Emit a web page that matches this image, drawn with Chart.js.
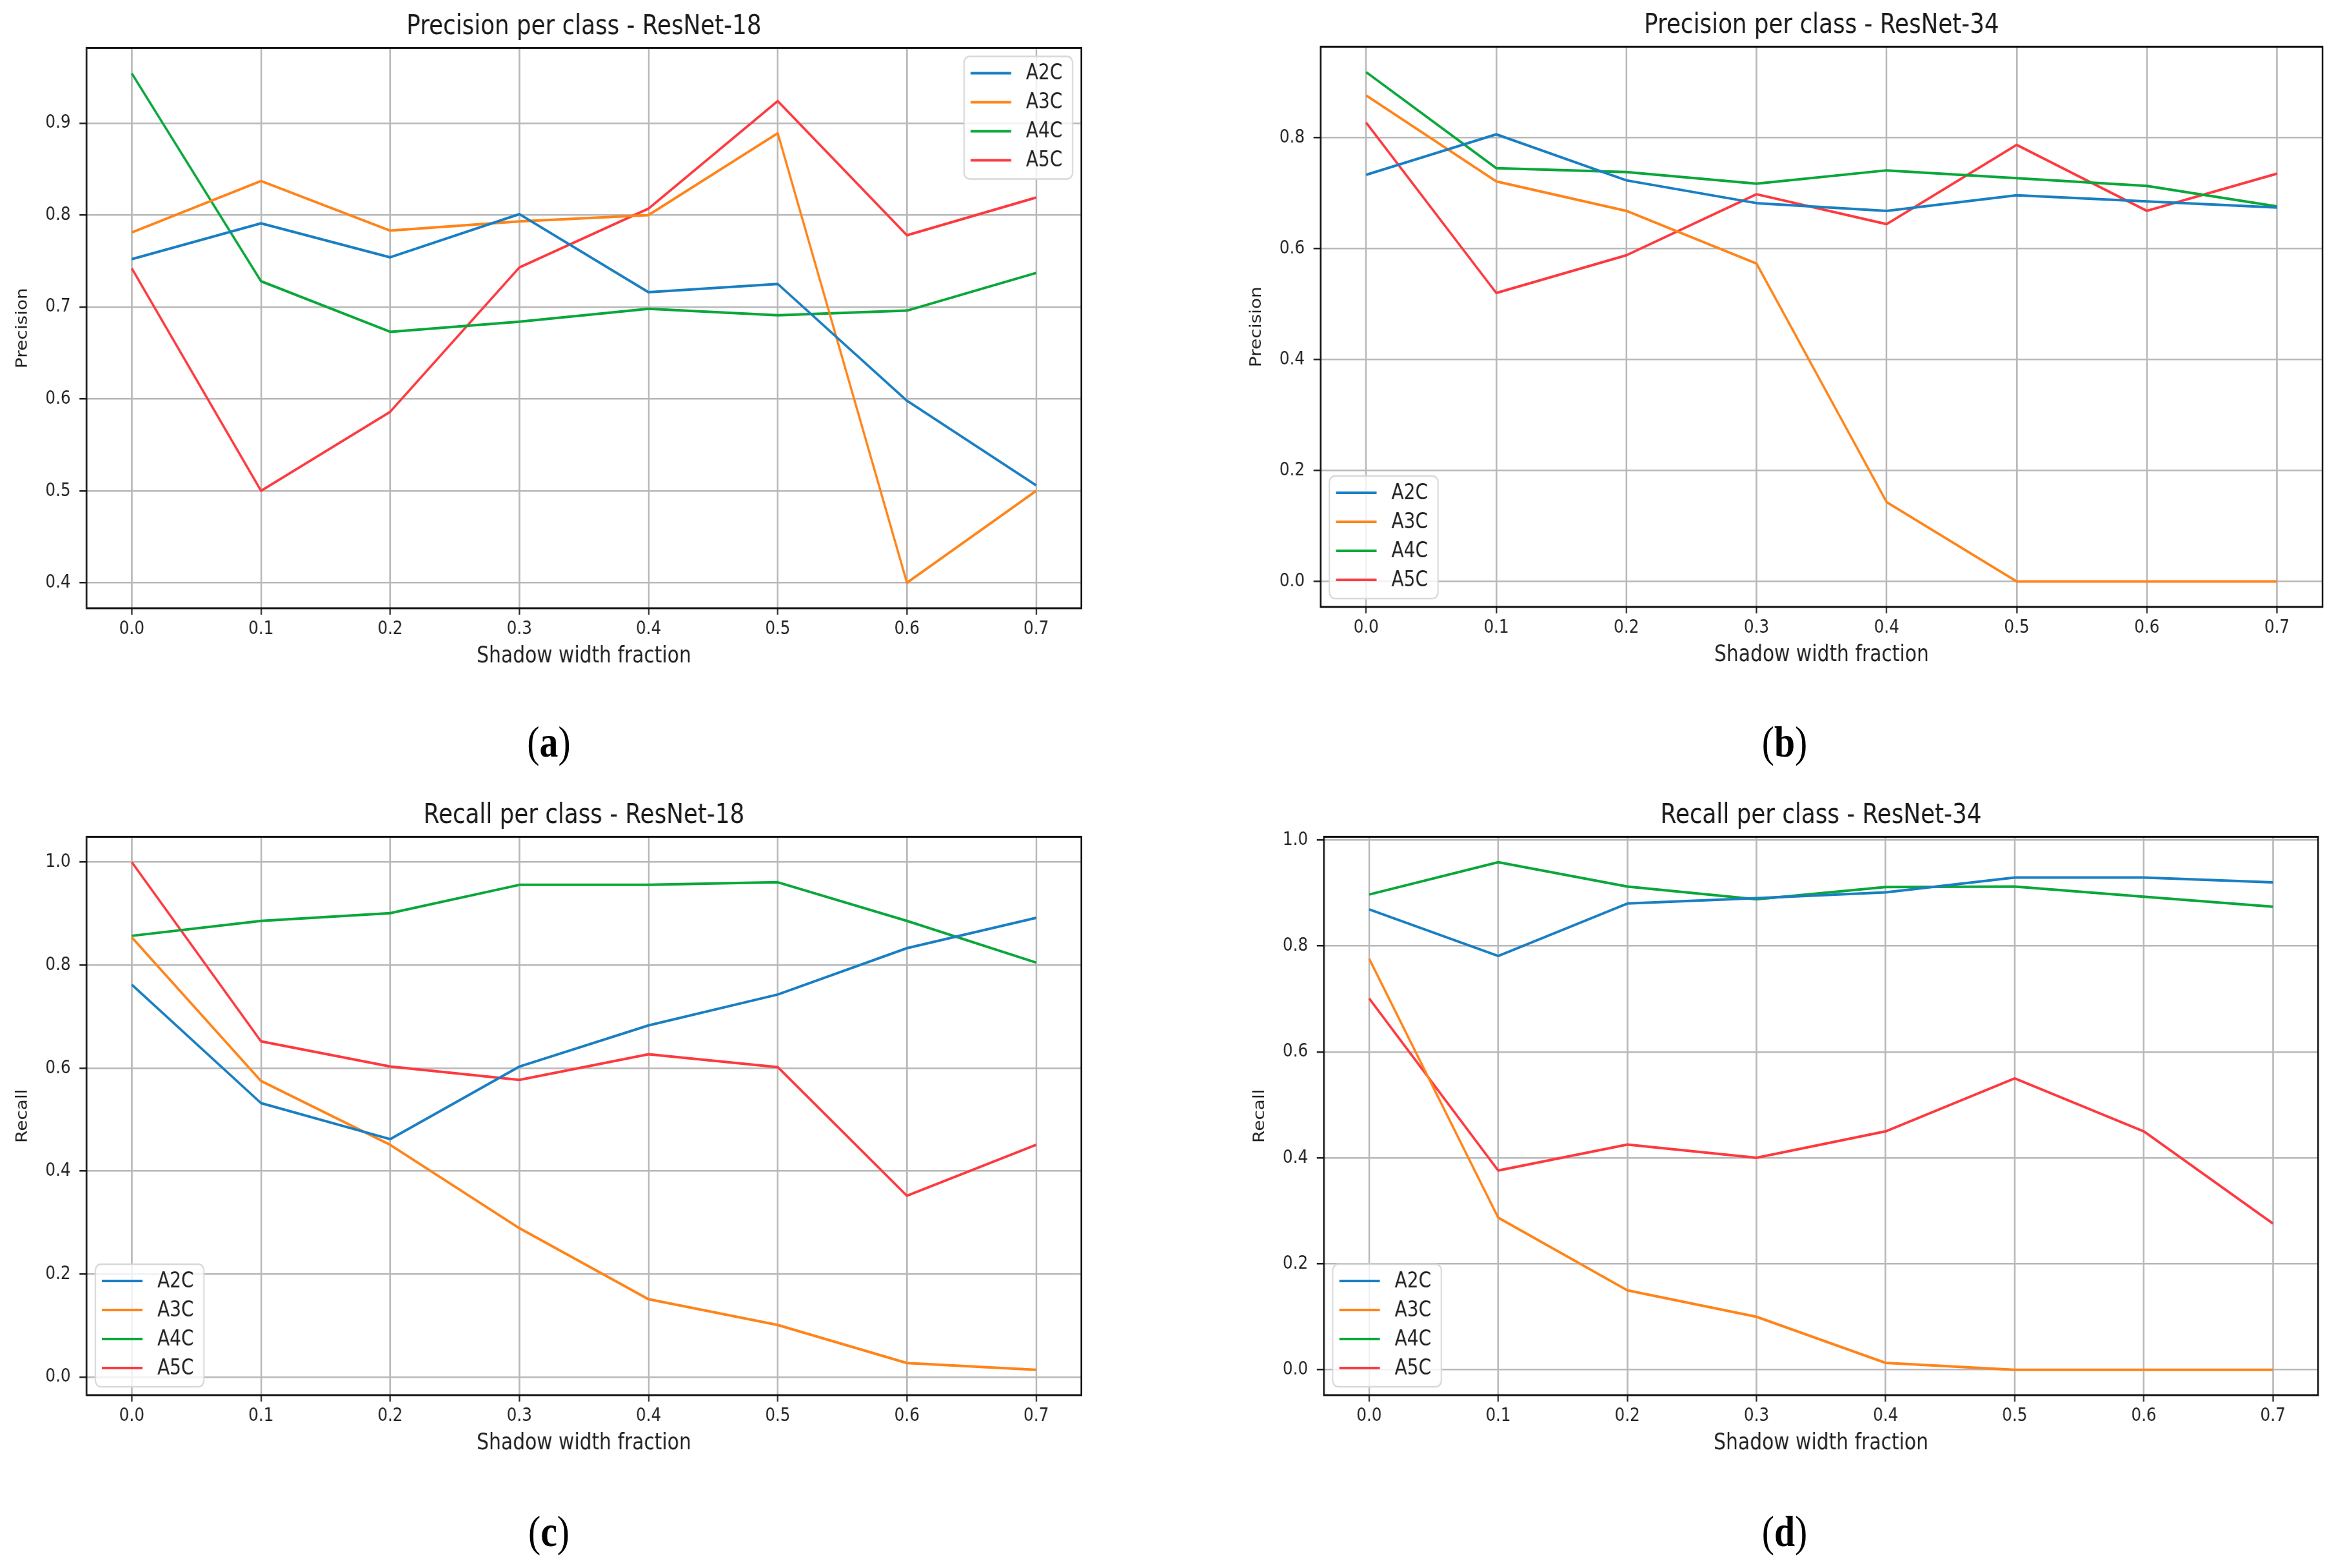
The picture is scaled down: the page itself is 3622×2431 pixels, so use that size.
<!DOCTYPE html>
<html>
<head>
<meta charset="utf-8">
<script src="https://cdn.jsdelivr.net/npm/chart.js@4.4.1/dist/chart.umd.min.js"></script>
<style>
    html, body { margin: 0; padding: 0; background: #fff; }
    body { width: 3622px; height: 2431px; overflow: hidden; position: relative; }
    #page { position: absolute; left: 0; top: 0; width: 4262px; height: 2431px; transform: scaleX(0.85); transform-origin: 0 0; }
    .panel { position: absolute; }
    .tag { position: absolute; font-family: 'Liberation Serif', serif; font-size: 68px; line-height: 1; color: #000; transform: translate(-50%, -50%); white-space: nowrap; }
</style>
</head>
<body>
<div id="page"></div>
<script>
// x values and classes
const shadowFractions = [0.0, 0.1, 0.2, 0.3, 0.4, 0.5, 0.6, 0.7];
const classNames = ['A2C', 'A3C', 'A4C', 'A5C'];
const classColors = ['#1a7fc2', '#ff8419', '#0aa73a', '#fd3a40'];

// (a) precision - ResNet-18
const precision18A2C = [0.752, 0.791, 0.754, 0.801, 0.716, 0.725, 0.598, 0.506];
const precision18A3C = [0.781, 0.837, 0.783, 0.793, 0.800, 0.889, 0.400, 0.500];
const precision18A4C = [0.954, 0.728, 0.673, 0.684, 0.698, 0.691, 0.696, 0.737];
const precision18A5C = [0.742, 0.500, 0.586, 0.743, 0.807, 0.924, 0.778, 0.819];

// (b) precision - ResNet-34
const precision34A2C = [0.733, 0.806, 0.723, 0.682, 0.668, 0.696, 0.685, 0.674];
const precision34A3C = [0.876, 0.721, 0.668, 0.573, 0.143, 0.0, 0.0, 0.0];
const precision34A4C = [0.918, 0.745, 0.738, 0.717, 0.741, 0.727, 0.713, 0.676];
const precision34A5C = [0.827, 0.520, 0.588, 0.698, 0.644, 0.787, 0.668, 0.735];

// (c) recall - ResNet-18
const recall18A2C = [0.762, 0.532, 0.462, 0.603, 0.683, 0.743, 0.833, 0.892];
const recall18A3C = [0.854, 0.575, 0.451, 0.289, 0.151, 0.101, 0.027, 0.014];
const recall18A4C = [0.857, 0.886, 0.901, 0.956, 0.956, 0.961, 0.886, 0.805];
const recall18A5C = [1.0, 0.652, 0.603, 0.577, 0.627, 0.602, 0.352, 0.451];

// (d) recall - ResNet-34
const recall34A2C = [0.869, 0.781, 0.880, 0.890, 0.901, 0.929, 0.929, 0.920];
const recall34A3C = [0.776, 0.287, 0.150, 0.100, 0.013, 0.0, 0.0, 0.0];
const recall34A4C = [0.897, 0.958, 0.912, 0.888, 0.911, 0.912, 0.893, 0.874];
const recall34A5C = [0.701, 0.376, 0.425, 0.400, 0.450, 0.550, 0.450, 0.276];

// tick labels
const xTicks = [0.0, 0.1, 0.2, 0.3, 0.4, 0.5, 0.6, 0.7];
const precision18Ticks = [0.4, 0.5, 0.6, 0.7, 0.8, 0.9];
const precision34Ticks = [0.0, 0.2, 0.4, 0.6, 0.8];
const recallTicks = [0.0, 0.2, 0.4, 0.6, 0.8, 1.0];

const SX = 0.85;   // the figure is squeezed horizontally
Chart.defaults.font.family = "'DejaVu Sans', sans-serif";
Chart.defaults.color = '#222';

// matplotlib like frame + legend inside the axes
const frameLegend = {
    id: 'frameLegend',
    afterDatasetsDraw(chart, args, opts) {
        const { ctx, chartArea: a } = chart;
        ctx.save();
        ctx.strokeStyle = '#111';
        ctx.lineWidth = 3;
        ctx.strokeRect(a.left, a.top, a.right - a.left, a.bottom - a.top);

        const w = 198, h = 190, inX = 16, inY = 13;
        const bx = opts.at === 'tr' ? a.right - inX - w : a.left + inX;
        const by = opts.at === 'tr' ? a.top + inY : a.bottom - inY - h;
        ctx.beginPath();
        ctx.roundRect(bx, by, w, h, 10);
        ctx.fillStyle = 'rgba(255,255,255,0.8)';
        ctx.fill();
        ctx.strokeStyle = '#d8d8d8';
        ctx.lineWidth = 2.5;
        ctx.stroke();

        ctx.font = "33px 'DejaVu Sans'";
        ctx.textBaseline = 'middle';
        ctx.textAlign = 'left';
        chart.data.datasets.forEach((ds, i) => {
            const y = by + 26 + i * 45;
            ctx.strokeStyle = ds.borderColor;
            ctx.lineWidth = 4;
            ctx.beginPath();
            ctx.moveTo(bx + 12, y);
            ctx.lineTo(bx + 86, y);
            ctx.stroke();
            ctx.fillStyle = '#222';
            ctx.fillText(ds.label, bx + 113, y + 1);
        });
        ctx.restore();
    }
};

function makePanel(box, title, yTitle, yTicks, series, legendAt, tag) {
    const page = document.getElementById('page');
    // canvas edges in picture pixels
    const left = box.L - 113, right = Math.min(box.R + 14, 3620), top = box.T - 57.4, bottom = box.B + 96;
    const wU = (right - left) / SX, hU = bottom - top;

    const div = document.createElement('div');
    div.className = 'panel';
    div.style.left = (left / SX) + 'px';
    div.style.top = top + 'px';
    div.style.width = wU + 'px';
    div.style.height = hU + 'px';
    const cv = document.createElement('canvas');
    cv.width = wU; cv.height = hU;
    cv.style.width = wU + 'px'; cv.style.height = hU + 'px';
    div.appendChild(cv);
    page.appendChild(div);

    const all = series.flat();
    const lo = Math.min(...all), hi = Math.max(...all), pad = (hi - lo) * 0.05;

    new Chart(cv, {
        type: 'line',
        data: {
            datasets: series.map((ys, i) => ({
                label: classNames[i],
                data: shadowFractions.map((x, j) => ({ x: x, y: ys[j] })),
                borderColor: classColors[i],
                borderWidth: 4,
                borderJoinStyle: 'round',
                pointRadius: 0,
                tension: 0,
                fill: false
            }))
        },
        options: {
            responsive: false,
            animation: false,
            devicePixelRatio: 1,
            layout: { padding: { left: 0, top: 0, bottom: 0, right: (right - box.R) / SX } },
            plugins: {
                legend: { display: false },
                tooltip: { enabled: false },
                title: {
                    display: true,
                    fullSize: false,
                    text: title,
                    color: '#1a1a1a',
                    font: { size: 42, weight: 'normal' },
                    padding: { top: 0, bottom: 7 }
                },
                frameLegend: { at: legendAt }
            },
            scales: {
                x: {
                    type: 'linear',
                    min: -0.035, max: 0.735,
                    afterBuildTicks: s => { s.ticks = xTicks.map(v => ({ value: v })); },
                    afterFit: s => { s.height = 96; },
                    ticks: { autoSkip: false, maxRotation: 0, padding: 5, font: { size: 29 }, color: '#222',
                        callback: v => Number(v).toFixed(1) },
                    grid: { color: '#b8b8b8', lineWidth: 3, tickLength: 10, tickColor: '#222', tickWidth: 2.5 },
                    border: { display: false },
                    title: { display: true, text: 'Shadow width fraction', color: '#222',
                        font: { size: 35 }, padding: { top: 0, bottom: 0 } }
                },
                y: {
                    type: 'linear',
                    min: lo - pad, max: hi + pad,
                    afterBuildTicks: s => { s.ticks = yTicks.map(v => ({ value: v })); },
                    afterFit: s => { s.width = (box.L - left) / SX; },
                    ticks: { padding: 16, font: { size: 29 }, color: '#222',
                        callback: v => Number(v).toFixed(1) },
                    grid: { color: '#b8b8b8', lineWidth: 2.5, tickLength: 13, tickColor: '#222', tickWidth: 2.5 },
                    border: { display: false },
                    title: { display: true, text: yTitle, color: '#222',
                        font: { size: 28 }, padding: { top: 0, bottom: 0 } }
                }
            }
        },
        plugins: [frameLegend]
    });

    const t = document.createElement('div');
    t.className = 'tag';
    t.style.left = (tag[0] / SX) + 'px';
    t.style.top = tag[1] + 'px';
    t.innerHTML = '(<b>' + tag[2] + '</b>)';
    page.appendChild(t);
}

makePanel({ L: 134, R: 1677, T: 74, B: 943 }, 'Precision per class - ResNet-18', 'Precision', precision18Ticks,
    [precision18A2C, precision18A3C, precision18A4C, precision18A5C], 'tr', [851, 1150, 'a']);
makePanel({ L: 2048, R: 3601, T: 72, B: 941 }, 'Precision per class - ResNet-34', 'Precision', precision34Ticks,
    [precision34A2C, precision34A3C, precision34A4C, precision34A5C], 'bl', [2767, 1150, 'b']);
makePanel({ L: 134, R: 1677, T: 1297, B: 2163 }, 'Recall per class - ResNet-18', 'Recall', recallTicks,
    [recall18A2C, recall18A3C, recall18A4C, recall18A5C], 'bl', [851, 2374, 'c']);
makePanel({ L: 2053, R: 3594, T: 1297, B: 2163 }, 'Recall per class - ResNet-34', 'Recall', recallTicks,
    [recall34A2C, recall34A3C, recall34A4C, recall34A5C], 'bl', [2767, 2374, 'd']);
</script>
</body>
</html>
